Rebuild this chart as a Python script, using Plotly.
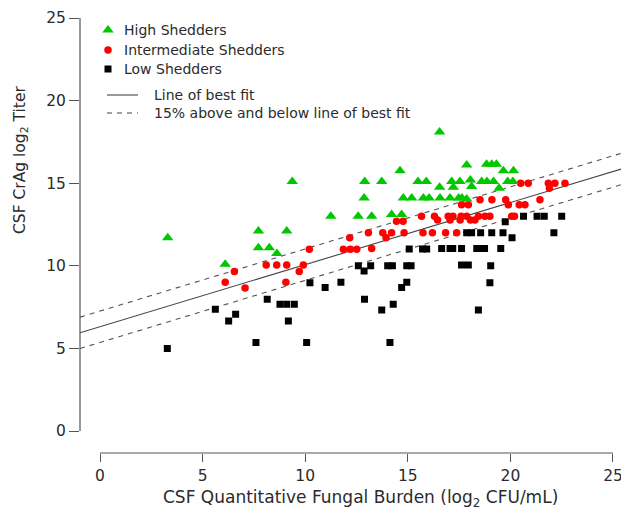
import plotly.graph_objects as go

# ---------------- data ----------------
high_x = [3.3, 6.1, 7.72, 7.72, 8.25, 8.62, 9.1, 9.37, 11.25, 12.58, 12.9, 12.87, 13.24, 13.73,
          14.21, 14.7, 14.62, 15.5, 15.9, 14.78, 15.19, 15.76, 16.04, 16.55, 16.55, 16.57, 17.06,
          17.48, 17.64, 17.87, 17.22, 17.14, 17.54, 17.87, 18.05, 18.11, 18.6, 18.86, 19.18, 18.84,
          19.09, 19.32, 19.45, 19.66, 20.15, 19.87, 20.12]
high_y = [11.7, 10.1, 12.1, 11.1, 11.1, 10.75, 12.1, 15.1, 13.0, 13.0, 15.1, 14.1, 13.0, 15.1,
          13.1, 13.1, 15.75, 15.1, 15.1, 14.1, 14.1, 14.1, 14.1, 18.1, 14.75, 14.1, 14.1,
          14.1, 14.1, 14.05, 14.75, 15.1, 15.1, 16.1, 15.2, 14.8, 15.1, 15.1, 15.1, 16.15,
          16.15, 16.15, 14.7, 15.75, 15.75, 15.1, 15.1]

inter_x = [6.1, 6.55, 7.07, 8.1, 8.61, 9.1, 9.06, 9.71, 9.91, 10.2, 11.86, 12.2, 12.51, 12.17,
           13.08, 13.24, 13.78, 13.94, 14.21, 14.45, 14.77, 14.82, 15.67, 15.74, 16.2, 16.3,
           16.45, 16.84, 16.97, 17.06, 17.2, 17.6, 17.55, 17.87, 18.05, 18.27, 18.44, 18.76, 19.0,
           17.38, 17.62, 17.95, 18.52, 19.1, 19.77, 19.9, 20.06, 20.2, 20.43, 20.71, 20.5, 20.87,
           21.44, 21.85, 21.9, 22.17, 22.66]
inter_y = [9.0, 9.65, 8.65, 10.05, 10.05, 10.05, 9.0, 9.65, 10.05, 11.0, 11.0, 11.0, 11.0, 11.7,
           12.0, 11.05, 12.0, 11.7, 12.0, 12.7, 12.7, 12.0, 13.0, 12.0, 12.0, 13.0,
           12.77, 12.0, 13.0, 12.77, 13.0, 13.0, 12.77, 13.0, 12.77, 12.77, 13.0, 13.0, 13.0,
           12.0, 13.7, 13.7, 14.0, 14.0, 14.0, 13.7, 13.0, 13.0, 13.7, 13.7, 15.0, 15.0,
           14.0, 15.0, 14.7, 15.0, 15.0]

low_x = [3.28, 5.62, 6.27, 6.61, 7.6, 8.15, 8.77, 9.1, 9.47, 9.18, 10.07, 10.23, 10.97, 11.74,
         12.59, 12.87, 12.89, 13.19, 13.73, 14.02, 14.25, 14.13, 14.29, 14.7, 14.95, 14.95, 15.16,
         15.07, 15.72, 15.92, 16.65, 17.06, 17.19, 17.62, 17.62, 17.95, 17.87, 18.11, 18.36, 18.55,
         18.74, 18.55, 18.44, 19.0, 19.04, 19.09, 19.53, 19.64, 19.75, 20.08, 20.64, 21.3, 21.65,
         22.12, 22.5]
low_y = [5.0, 7.37, 6.66, 7.06, 5.36, 7.97, 7.67, 7.67, 7.67, 6.66, 5.35, 8.98, 8.68, 9.0,
         10.0, 9.69, 7.97, 10.0, 7.32, 10.0, 10.0, 5.35, 7.67, 8.68, 9.0, 10.0, 10.0,
         11.02, 11.02, 11.02, 11.05, 11.05, 11.05, 11.05, 10.05, 10.05, 12.0, 12.0, 11.05, 11.05,
         11.05, 12.0, 7.32, 8.98, 10.0, 12.0, 11.05, 12.0, 12.67, 11.7, 13.0, 13.0, 13.0,
         12.0, 13.0]

# line of best fit: intercept, slope; half-width of the dashed band
fit_intercept = 6.31
fit_slope = 0.376
band_offset = 0.95

x_ticks = [0, 5, 10, 15, 20, 25]
y_ticks = [0, 5, 10, 15, 20, 25]

legend_labels = ["High Shedders", "Intermediate Shedders", "Low Shedders",
                 "Line of best fit", "15% above and below line of best fit"]

# ---------------- styling / layout ----------------
OFF = 8                      # page body margin of the browser
W, H = 629 - OFF, 521 - OFF
ML, MR, MT = 80 - OFF, 0, 0
AXIS_Y_REF = 453             # pixel row of the x axis line in the reference
MB = H - (AXIS_Y_REF - OFF)
PAPER_H = H - MT - MB
PLOT_W = W - ML - MR
X_RANGE = [-0.975, 25.78]
PX_PER_Y = 16.52
Y_BOTTOM_REF = 431 + PX_PER_Y          # reference row of y = -1
Y_TOP = 25 + (18 - OFF) / PX_PER_Y     # value at top edge of the plot area
Y_RANGE = [-1, Y_TOP]
Y_DOMAIN = [(AXIS_Y_REF - Y_BOTTOM_REF) / PAPER_H, 1]

FONT = "DejaVu Sans, Liberation Sans, Arial, sans-serif"
TXT = "#2b2b2b"
AX = "#555555"
GREEN = "#00C800"
RED = "#FF0000"
BLACK = "#000000"


def rx(px):   # reference pixel column -> paper x
    return (px - OFF - ML) / PLOT_W


def ry(py):   # reference pixel row -> paper y
    return (H - MB - (py - OFF)) / PAPER_H


def ry2(py):  # reference pixel row -> fraction of y domain
    top = MT
    bot = MT + PAPER_H * (1 - Y_DOMAIN[0])
    return (bot - (py - OFF)) / (bot - top)


fig = go.Figure()

xl = X_RANGE
fit_y = [fit_intercept + fit_slope * v for v in xl]
fig.add_trace(go.Scatter(x=xl, y=fit_y, mode="lines",
                         line=dict(color="#444444", width=1.1), showlegend=False, hoverinfo="skip"))
for s in (1, -1):
    fig.add_trace(go.Scatter(x=xl, y=[v + s * band_offset for v in fit_y], mode="lines",
                             line=dict(color="#555555", width=1.1, dash="5px,5px"),
                             showlegend=False, hoverinfo="skip"))

fig.add_trace(go.Scatter(x=low_x, y=low_y, mode="markers", name=legend_labels[2],
                         marker=dict(symbol="square", size=7, color=BLACK, line=dict(width=0)),
                         showlegend=False))
fig.add_trace(go.Scatter(x=inter_x, y=inter_y, mode="markers", name=legend_labels[1],
                         marker=dict(symbol="circle", size=7.5, color=RED, line=dict(width=0)),
                         showlegend=False))
fig.add_trace(go.Scatter(x=high_x, y=high_y, mode="markers", name=legend_labels[0],
                         marker=dict(symbol="triangle-up", size=10, color=GREEN, line=dict(width=0)),
                         showlegend=False))

# ---- manual legend ----
leg_rows = [30, 50, 69]
leg_symbols = ["triangle-up", "circle", "square"]
leg_colors = [GREEN, RED, BLACK]
leg_sizes = [10, 7.5, 7]
for sym, col, sz, py in zip(leg_symbols, leg_colors, leg_sizes, leg_rows):
    fig.add_trace(go.Scatter(x=[rx(108)], y=[ry2(py)], mode="markers",
                             xaxis="x2", yaxis="y2",
                             marker=dict(symbol=sym, size=sz, color=col, line=dict(width=0)),
                             showlegend=False, hoverinfo="skip"))

annotations = []
for lab, py in zip(legend_labels[:3], leg_rows):
    annotations.append(dict(x=rx(122), y=ry(py), xref="paper", yref="paper",
                            text=lab, showarrow=False, xanchor="left", yanchor="middle",
                            font=dict(family=FONT, size=14, color=TXT)))
shapes = []
for lab, py, dash in zip(legend_labels[3:], [95, 113], ["solid", "5px,5px"]):
    shapes.append(dict(type="line", xref="paper", yref="paper",
                       x0=rx(107), x1=rx(138), y0=ry(py), y1=ry(py),
                       line=dict(color="#444444", width=1.1, dash=dash)))
    annotations.append(dict(x=rx(152), y=ry(py), xref="paper", yref="paper",
                            text=lab, showarrow=False, xanchor="left", yanchor="middle",
                            font=dict(family=FONT, size=14, color=TXT)))

# axis lines (R style, spanning only the tick range)
shapes.append(dict(type="line", xref="paper", yref="y", x0=0, x1=0,
                   y0=y_ticks[0], y1=y_ticks[-1], line=dict(color=AX, width=1.2)))
shapes.append(dict(type="line", xref="x", yref="paper", x0=x_ticks[0], x1=x_ticks[-1],
                   y0=0, y1=0, line=dict(color=AX, width=1.2)))

# axis titles
annotations.append(dict(x=rx(360), y=ry(498), xref="paper", yref="paper",
                        text="CSF Quantitative Fungal Burden (log<sub>2</sub> CFU/mL)",
                        showarrow=False, xanchor="center", yanchor="middle",
                        font=dict(family=FONT, size=17, color=TXT)))
annotations.append(dict(x=rx(21), y=ry(160), xref="paper", yref="paper",
                        text="CSF CrAg log<sub>2</sub> Titer", textangle=-90,
                        showarrow=False, xanchor="center", yanchor="middle",
                        font=dict(family=FONT, size=15.5, color=TXT)))

fig.update_layout(
    width=W, height=H,
    margin=dict(l=ML, r=MR, t=MT, b=MB, pad=0),
    paper_bgcolor="white", plot_bgcolor="white",
    font=dict(family=FONT, size=15, color=TXT),
    xaxis=dict(range=X_RANGE, domain=[0, 1], anchor="free", position=0,
               showgrid=False, zeroline=False, showline=False,
               tickmode="array", tickvals=x_ticks, ticktext=[str(v) for v in x_ticks],
               ticks="outside", ticklen=8, tickwidth=1.2, tickcolor=AX,
               tickfont=dict(family=FONT, size=15.5, color=TXT)),
    yaxis=dict(range=Y_RANGE, domain=Y_DOMAIN,
               showgrid=False, zeroline=False, showline=False,
               tickmode="array", tickvals=y_ticks, ticktext=[str(v) for v in y_ticks],
               ticks="outside", ticklen=10, tickwidth=1.2, tickcolor=AX,
               tickfont=dict(family=FONT, size=15.5, color=TXT)),
    xaxis2=dict(overlaying="x", range=[0, 1], visible=False),
    yaxis2=dict(overlaying="y", range=[0, 1], visible=False),
    shapes=shapes,
    annotations=annotations,
    showlegend=False,
)

fig.write_html("out.html")
